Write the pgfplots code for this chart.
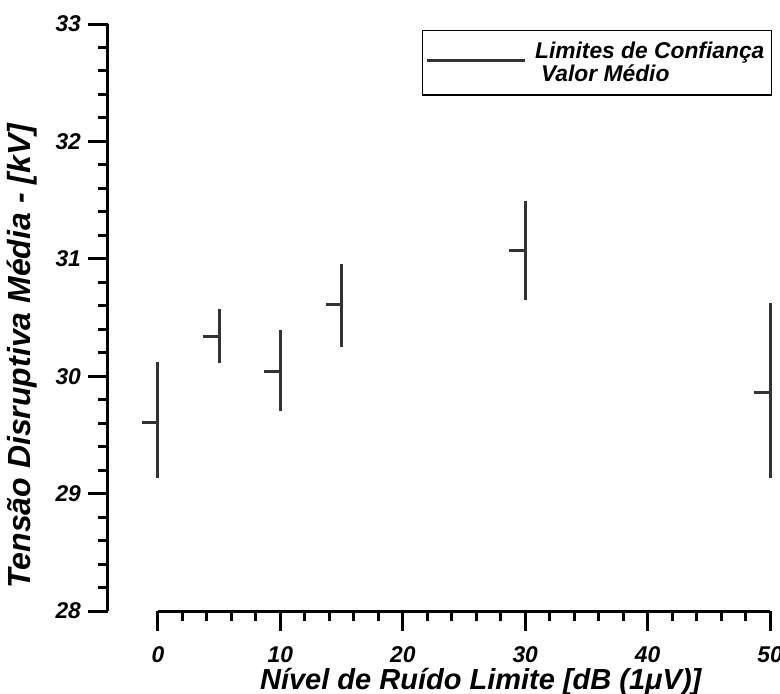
\documentclass[border=0pt]{standalone}
\usepackage{fontspec}
\setmainfont{Liberation Sans}
\usepackage{pgfplots}
\pgfplotsset{compat=1.18}

\newcommand{\tickfont}{\fontsize{11.4}{13}\selectfont\bfseries\itshape}
\newcommand{\xlabfont}{\fontsize{14.5}{16}\selectfont\bfseries\itshape}
\newcommand{\ylabfont}{\fontsize{16}{18}\selectfont\bfseries\itshape}

\begin{document}
\begin{tikzpicture}
\useasboundingbox (-54pt,-41pt) rectangle (336pt,305.5pt);
\begin{axis}[
    scale only axis,
    width=331pt, height=293.5pt,
    xmin=-4.08, xmax=50,
    ymin=28, ymax=33,
    clip=false,
    axis x line=bottom,
    axis y line=left,
    axis line style={-, line width=1.5pt, black},
    x axis line style={draw=none},
    xtick={0,10,...,50},
    minor xtick={2,4,...,48},
    ytick={28,29,...,33},
    minor ytick={28,28.2,...,33},
    tick align=outside,
    major tick length=10pt,
    minor tick length=5pt,
    every tick/.style={line width=1.5pt, black},
    every minor tick/.style={line width=1.5pt, black},
    /pgf/number format/assume math mode=true,
    ticklabel style={font=\tickfont},
    xticklabel style={yshift=-4pt},
    xlabel={Nível de Ruído Limite [dB (1μV)]},
    ylabel={Tensão Disruptiva Média - [kV]},
    xlabel style={font=\xlabfont, at={(axis description cs:0.563,-0.121)}, anchor=center},
    ylabel style={font=\ylabfont, at={(axis description cs:-0.13,0.434)}, anchor=center},
    legend style={at={(rel axis cs:1.003,0.9895)}, anchor=north east,
        draw=black, line width=0.6pt, font=\tickfont,
        inner xsep=2pt, inner ysep=4pt,
        nodes={inner sep=1.5pt}, row sep=-1.5pt},
    legend cell align=left,
]
\draw[line width=1.5pt] (axis cs:0,28) -- (axis cs:50,28);

\addplot[draw=none, mark=none, forget plot,
    error bars/.cd,
    x dir=minus, x explicit,
    y dir=both, y explicit,
    error mark=none,
    error bar style={draw=black!80, line width=1.5pt}]
coordinates {
    (0,29.61)  += (0,0.51) -= (1.3,0.48)
    (5,30.34)  += (0,0.23) -= (1.3,0.23)
    (10,30.04) += (0,0.35) -= (1.3,0.34)
    (15,30.61) += (0,0.35) -= (1.3,0.36)
    (30,31.07) += (0,0.42) -= (1.3,0.42)
    (50,29.86) += (0,0.76) -= (1.3,0.73)
};

\addlegendimage{legend image code/.code={
    \path (0pt,0pt) (52pt,0pt);
    \draw[overlay, line width=1.5pt, black!80] (0pt,-4.5pt) -- (49pt,-4.5pt);}}
\addlegendentry{Limites de Confiança}
\addlegendimage{legend image code/.code={\path (0pt,0pt) (52pt,0pt);}}
\addlegendentry{\hspace{3pt}Valor Médio}
\end{axis}
\end{tikzpicture}
\end{document}
